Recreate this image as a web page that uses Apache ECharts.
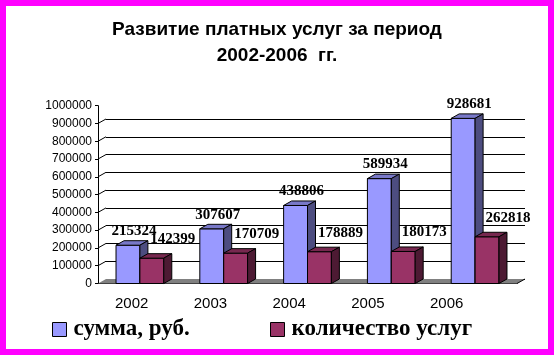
<!DOCTYPE html>
<html>
<head>
<meta charset="utf-8">
<script src="https://cdn.jsdelivr.net/npm/echarts@6/dist/echarts.min.js"></script>
<style>
	html, body { margin: 0; padding: 0; background: #fff; }
	#chart { width: 554px; height: 355px; }
</style>
</head>
<body>
<div id="chart"></div>
<script>
	// данные
	var years = ['2002', '2003', '2004', '2005', '2006'];
	var sums = [215324, 307607, 438806, 589934, 928681];      // сумма, руб.
	var counts = [142399, 170709, 178889, 180173, 262818];    // количество услуг
	var tickVals = [100000, 200000, 300000, 400000, 500000, 600000, 700000, 800000, 900000];

	var DX = 8, DY = -4.5; // глубина 3D

	var chart = echarts.init(document.getElementById('chart'));

	/* объёмный столбик */
	function makeBox(colors, shift, lx, ly) {
		return function (params, api) {
			var idx = api.value(0), val = api.value(1);
			var base = api.coord([idx, 0]);
			var top = api.coord([idx, val]);
			var band = api.size([1, 0])[0];
			var w = band * 0.285;
			var x0 = base[0] + shift * w;
			var ty = top[1], by = base[1];
			var st = { stroke: '#000', lineWidth: 1 };
			return {
				type: 'group',
				children: [
					{ type: 'rect', shape: { x: x0, y: ty, width: w, height: by - ty },
						style: Object.assign({ fill: colors[0] }, st) },
					{ type: 'polygon', shape: { points: [[x0, ty], [x0 + w, ty], [x0 + w + DX, ty + DY], [x0 + DX, ty + DY]] },
						style: Object.assign({ fill: colors[1] }, st) },
					{ type: 'polygon', shape: { points: [[x0 + w, ty], [x0 + w + DX, ty + DY], [x0 + w + DX, by + DY], [x0 + w, by]] },
						style: Object.assign({ fill: colors[2] }, st) },
					{ type: 'text', x: x0 + w / 2 + lx, y: ty + ly,
						style: { text: String(val), fill: '#000', font: 'bold 15px "Liberation Serif", "Times New Roman", serif',
							align: 'center', verticalAlign: 'middle' } }
				]
			};
		};
	}

	var sumData = sums.map(function (v, i) { return [i, v]; });
	var countData = counts.map(function (v, i) { return [i, v]; });

	var legendText = { fontFamily: '"Liberation Serif", "Times New Roman", serif', fontSize: 23, fontWeight: 'bold', color: '#000', padding: [0, 0, 0, 2] };

	chart.setOption({
		animation: false,
		backgroundColor: '#fff',
		title: {
			text: 'Развитие платных услуг за период\n2002-2006  гг.',
			left: 'center',
			top: 17,
			padding: 0,
			textStyle: { fontFamily: '"Liberation Sans", Arial, sans-serif', fontSize: 19, fontWeight: 'bold', lineHeight: 26, color: '#000' }
		},
		legend: [{
			data: ['сумма, руб.'],
			left: 52, top: 318, padding: 0,
			icon: 'rect', itemWidth: 14, itemHeight: 14,
			itemStyle: { borderColor: '#000', borderWidth: 1 },
			textStyle: legendText
		}, {
			data: ['количество услуг'],
			left: 270, top: 318, padding: 0,
			icon: 'rect', itemWidth: 14, itemHeight: 14,
			itemStyle: { borderColor: '#000', borderWidth: 1 },
			textStyle: legendText
		}],
		grid: [
			{ left: 98, right: 37, top: 105.7, bottom: 71.5 },   // передняя плоскость
			{ left: 106, right: 29, top: 119, bottom: 76 },       // задняя стенка
			{ left: 92.3, right: 68, top: 105.7, bottom: 71.5 }   // подписи лет
		],
		xAxis: [
			{ type: 'category', gridIndex: 0, data: years,
				axisLine: { lineStyle: { color: '#000', width: 1 } },
				axisTick: { length: 4, lineStyle: { color: '#000' } },
				axisLabel: { show: false } },
			{ type: 'category', gridIndex: 1, data: years, show: false },
			{ type: 'category', gridIndex: 2, data: years,
				axisLine: { show: false }, axisTick: { show: false },
				axisLabel: { margin: 13, color: '#000', fontSize: 15, fontFamily: '"Liberation Sans", Arial, sans-serif' } }
		],
		yAxis: [
			{ type: 'value', gridIndex: 0, min: 0, max: 1000000, interval: 100000,
				axisLine: { show: true, lineStyle: { color: '#000', width: 1 } },
				axisTick: { show: true, length: 3, lineStyle: { color: '#000' } },
				splitLine: { show: false },
				axisLabel: { margin: 6, color: '#000', fontSize: 12, fontFamily: '"Liberation Sans", Arial, sans-serif',
					formatter: function (v) { return String(v); } } },
			{ type: 'value', gridIndex: 1, min: 0, max: 900000, interval: 100000,
				axisLine: { show: false }, axisTick: { show: false }, axisLabel: { show: false },
				splitLine: { lineStyle: { color: '#000', width: 1 } } },
			{ type: 'value', gridIndex: 2, show: false }
		],
		graphic: [{
			type: 'rect', z: 100,
			shape: { x: 3, y: 3, width: 548, height: 349 },
			style: { fill: 'none', stroke: '#FF00FF', lineWidth: 6 }
		}],
		series: [
			{ // пол
				type: 'custom', xAxisIndex: 0, yAxisIndex: 0, z: 1, silent: true,
				data: [[0, 0]],
				renderItem: function (params, api) {
					var c = params.coordSys;
					var by = c.y + c.height;
					return {
						type: 'group',
						children: [
							{ type: 'polygon', shape: { points: [[c.x, by], [c.x + c.width, by], [c.x + c.width + DX, by + DY], [c.x + DX, by + DY]] },
								style: { fill: '#808080' } },
							{ type: 'line', shape: { x1: c.x + c.width, y1: by, x2: c.x + c.width + DX, y2: by + DY },
								style: { stroke: '#000', lineWidth: 1 } }
						]
					};
				}
			},
			{ // диагональные засечки
				type: 'custom', xAxisIndex: 0, yAxisIndex: 0, z: 1, silent: true,
				data: tickVals.map(function (v) { return [0, v]; }),
				renderItem: function (params, api) {
					var p = api.coord([0, api.value(1)]);
					var x = params.coordSys.x;
					return { type: 'line', shape: { x1: x, y1: p[1], x2: x + DX, y2: p[1] + DY },
						style: { stroke: '#000', lineWidth: 1 } };
				}
			},
			{
				name: 'сумма, руб.', type: 'custom', xAxisIndex: 0, yAxisIndex: 0, z: 3,
				itemStyle: { color: '#9999FF' },
				data: sumData,
				renderItem: makeBox(['#9999FF', '#7878C8', '#4D4D80'], -1, 6, -14)
			},
			{
				name: 'количество услуг', type: 'custom', xAxisIndex: 0, yAxisIndex: 0, z: 4,
				itemStyle: { color: '#993366' },
				data: countData,
				renderItem: makeBox(['#993366', '#77284F', '#4D1A33'], 0, 21, -19)
			}
		]
	});
</script>
</body>
</html>
